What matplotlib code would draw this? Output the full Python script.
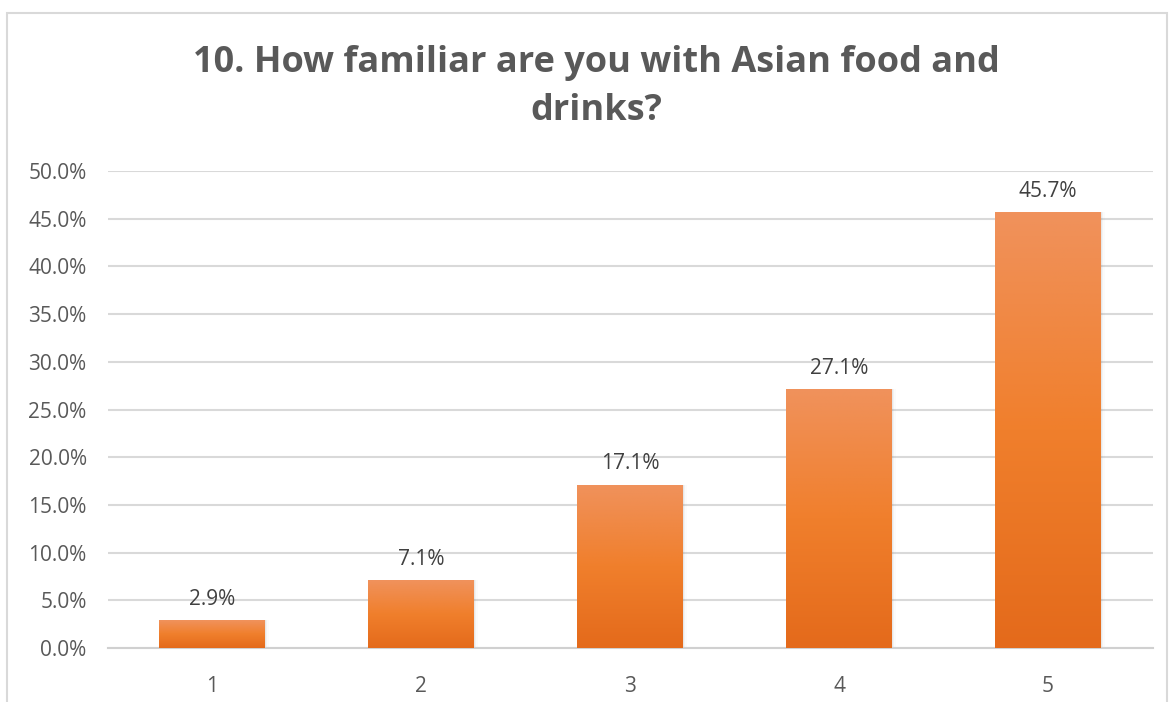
import numpy as np
import matplotlib.pyplot as plt
from matplotlib.patches import Rectangle
from matplotlib.colors import LinearSegmentedColormap

categories = ['1', '2', '3', '4', '5']
shares = [0.029, 0.071, 0.171, 0.271, 0.457]
labels = ['2.9%', '7.1%', '17.1%', '27.1%', '45.7%']

grey = '#595959'
plt.rcParams['font.family'] = ['Open Sans', 'DejaVu Sans']

fig = plt.figure(figsize=(11.71, 7.02), dpi=100)
# chart frame like the spreadsheet chart area
fig.patches.append(Rectangle((7 / 1171, -0.01), 1160 / 1171, 1 - 13 / 702 + 0.01,
                             transform=fig.transFigure, fill=False,
                             edgecolor='#D9D9D9', linewidth=1.5))

ax = fig.add_axes([107.5 / 1171, 54 / 702, 1045 / 1171, 477 / 702])
x = np.arange(len(categories))
bar_w = 0.507

cmap = LinearSegmentedColormap.from_list('og', ['#E46A1B', '#F07F2C', '#F0925C'])
grad = np.linspace(0, 1, 256).reshape(-1, 1)

bars = ax.bar(x, shares, bar_w, color='none', zorder=3)
for b in bars:
    x0, y0 = b.get_x(), b.get_y()
    w, h = b.get_width(), b.get_height()
    # soft shadow on the right
    for i, a in enumerate([0.10, 0.06, 0.03]):
        ax.add_patch(Rectangle((x0 + 0.006 * (i + 1), y0), w, h, color='#808080',
                               alpha=a, lw=0, zorder=2))
    im = ax.imshow(grad, extent=[x0, x0 + w, y0, y0 + h], origin='lower',
                   cmap=cmap, aspect='auto', zorder=3)
    im.set_clip_path(b)

for xi, v, t in zip(x, shares, labels):
    ax.text(xi, v + 0.011, t, ha='center', va='bottom', fontsize=15, color='#404040')

ax.set_xlim(-0.5, len(categories) - 0.5)
ax.set_ylim(0, 0.5)
ax.set_yticks(np.arange(0, 0.501, 0.05))
ax.set_yticklabels(['%.1f%%' % (v * 100) for v in np.arange(0, 0.501, 0.05)])
ax.set_xticks(x)
ax.set_xticklabels(categories)
ax.tick_params(length=0, labelsize=15, labelcolor=grey)
ax.tick_params(axis='y', pad=15)
ax.tick_params(axis='x', pad=20)
ax.yaxis.grid(True, color='#D9D9D9', linewidth=1.5, zorder=0)
ax.set_axisbelow(True)
for s in ['top', 'right', 'left']:
    ax.spines[s].set_visible(False)
ax.spines['bottom'].set_color('#D0D0D0')
ax.spines['bottom'].set_linewidth(1.5)

fig.text(596 / 1171, 1 - 87 / 702, '10. How familiar are you with Asian food and\ndrinks?',
         ha='center', va='center', fontsize=26, fontweight='bold', color=grey,
         linespacing=1.45)

fig.savefig('out.png', dpi=100)
